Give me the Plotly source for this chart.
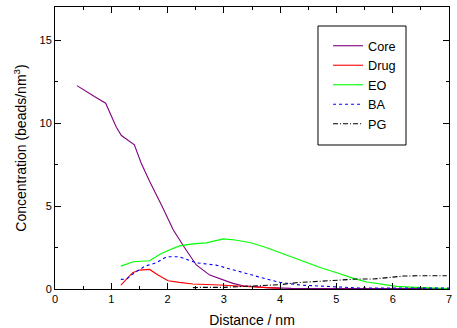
import plotly.graph_objects as go

# ---- data ----
core_x = [0.39, 0.55, 0.7, 0.9, 1.09, 1.18, 1.41, 1.53, 1.68, 1.9, 2.1, 2.3, 2.51, 2.75, 2.93, 3.16, 3.34, 3.76, 4.2, 5.0, 6.0, 7.0]
core_y = [12.26, 11.9, 11.6, 11.2, 9.75, 9.25, 8.69, 7.6, 6.5, 5.0, 3.57, 2.5, 1.45, 0.84, 0.6, 0.34, 0.2, 0.08, 0.04, 0.03, 0.03, 0.02]

drug_x = [1.17, 1.38, 1.5, 1.68, 1.83, 2.01, 2.21, 2.45, 2.93, 3.34, 3.7, 4.0]
drug_y = [0.24, 0.98, 1.14, 1.18, 0.84, 0.5, 0.4, 0.3, 0.24, 0.15, 0.06, 0.04]

eo_x = [1.17, 1.39, 1.68, 1.89, 2.0, 2.21, 2.45, 2.69, 2.99, 3.2, 3.46, 3.75, 3.99, 4.25, 4.53, 4.71, 5.06, 5.3, 5.54, 5.9, 6.07, 6.4, 6.66, 7.0]
eo_y = [1.38, 1.64, 1.7, 2.14, 2.3, 2.6, 2.72, 2.78, 3.02, 2.95, 2.8, 2.5, 2.2, 1.88, 1.52, 1.3, 0.92, 0.64, 0.42, 0.24, 0.16, 0.1, 0.06, 0.03]

ba_x = [1.17, 1.27, 1.4, 1.6, 1.8, 1.98, 2.21, 2.51, 2.86, 3.16, 3.46, 3.76, 4.0, 4.35, 4.83, 5.06, 5.4, 6.0, 6.5, 7.0]
ba_y = [0.58, 0.6, 0.95, 1.38, 1.58, 1.94, 1.94, 1.58, 1.44, 1.14, 0.88, 0.6, 0.4, 0.24, 0.16, 0.14, 0.06, 0.05, 0.04, 0.05]

pg_x = [2.45, 2.6, 3.0, 3.34, 3.7, 4.0, 4.29, 4.65, 4.88, 5.06, 5.36, 5.65, 5.9, 6.19, 6.5, 6.96]
pg_y = [0.08, 0.1, 0.1, 0.14, 0.18, 0.26, 0.38, 0.44, 0.48, 0.54, 0.6, 0.6, 0.7, 0.78, 0.8, 0.8]

series = [
    ("Core", core_x, core_y, "#800080", "solid"),
    ("Drug", drug_x, drug_y, "#ff0000", "solid"),
    ("EO", eo_x, eo_y, "#00ff00", "solid"),
    ("BA", ba_x, ba_y, "#0000ff", "3px,3px"),
    ("PG", pg_x, pg_y, "#000000", "5px,2px,1px,2px"),
]

fig = go.Figure()
for name, xs, ys, color, dash in series:
    fig.add_trace(go.Scatter(x=xs, y=ys, mode="lines", name=name,
                             line=dict(color=color, width=1.1, dash=dash)))

FONT = "Liberation Sans, Arial, sans-serif"
axis_common = dict(
    showline=True, linecolor="black", linewidth=1, mirror="allticks",
    ticks="inside", ticklen=6, tickcolor="black", tickwidth=1,
    showgrid=False, zeroline=False, automargin=False,
    tickfont=dict(family=FONT, size=11, color="black"),
)

fig.update_layout(
    width=457, height=328,
    margin=dict(l=55, r=8, t=7, b=39),
    paper_bgcolor="white", plot_bgcolor="white",
    font=dict(family=FONT, color="black"),
    xaxis=dict(range=[0, 7], dtick=1, tick0=0,
               minor=dict(dtick=0.5, ticks="inside", ticklen=3, tickcolor="black"),
               title=dict(text="Distance / nm", font=dict(size=14), standoff=10),
               **axis_common),
    yaxis=dict(range=[0, 17], dtick=5, tick0=0,
               minor=dict(dtick=2.5, ticks="inside", ticklen=3, tickcolor="black"),
               title=dict(text="Concentration (beads/nm<sup>3</sup>)", font=dict(size=14), standoff=9),
               **axis_common),
    legend=dict(x=0.693, y=0.915, xanchor="left", yanchor="top",
                bgcolor="rgba(0,0,0,0)", borderwidth=0,
                font=dict(family=FONT, size=12.7, color="black")),
    shapes=[dict(type="rect", xref="paper", yref="paper",
                 x0=0.6675, x1=0.8909, y0=0.5106, y1=0.9326,
                 line=dict(color="black", width=1), fillcolor="rgba(0,0,0,0)")],
)

fig.write_html("out.html")
